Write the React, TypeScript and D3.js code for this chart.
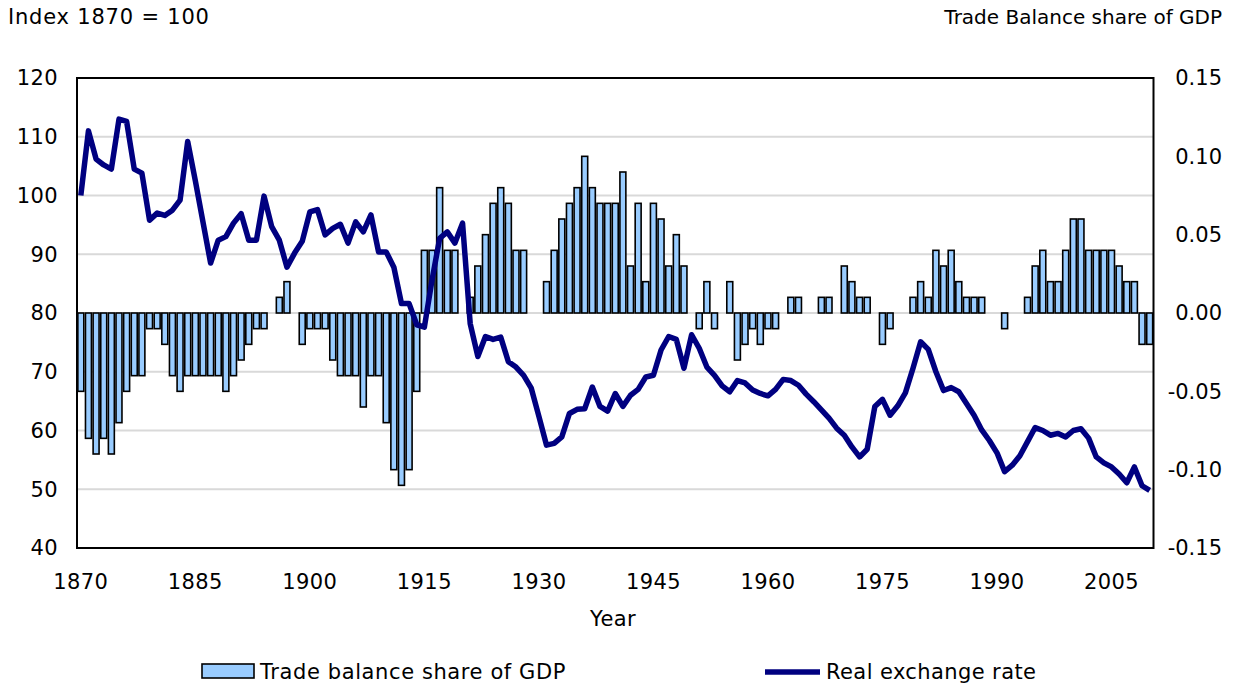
import React from "react";
import * as d3 from "d3";

// categories
const years = d3.range(1870, 2011).map(String);
const xTickYears = ["1870", "1885", "1900", "1915", "1930", "1945", "1960", "1975", "1990", "2005"];
const leftTicks = [40, 50, 60, 70, 80, 90, 100, 110, 120];
const rightTicks = [-0.15, -0.1, -0.05, 0, 0.05, 0.1, 0.15];

// Trade balance share of GDP (bars, right axis)
const tradeBalance = [
  -0.05, -0.08, -0.09, -0.08, -0.09, -0.07, -0.05, -0.04, -0.04, -0.01,
  -0.01, -0.02, -0.04, -0.05, -0.04, -0.04, -0.04, -0.04, -0.04, -0.05,
  -0.04, -0.03, -0.02, -0.01, -0.01, 0, 0.01, 0.02, 0, -0.02,
  -0.01, -0.01, -0.01, -0.03, -0.04, -0.04, -0.04, -0.06, -0.04, -0.04,
  -0.07, -0.1, -0.11, -0.1, -0.05,
  0.04, 0.04, 0.08, 0.04, 0.04, 0, 0.01, 0.03, 0.05, 0.07,
  0.08, 0.07, 0.04, 0.04, 0, 0, 0.02, 0.04, 0.06, 0.07,
  0.08, 0.1, 0.08, 0.07, 0.07, 0.07, 0.09, 0.03, 0.07, 0.02,
  0.07, 0.06, 0.03, 0.05, 0.03, 0, -0.01, 0.02, -0.01, 0,
  0.02, -0.03,
  -0.02, -0.01, -0.02, -0.01, -0.01, 0, 0.01, 0.01, 0, 0,
  0.01, 0.01, 0, 0.03, 0.02, 0.01, 0.01, 0, -0.02, -0.01,
  0, 0, 0.01, 0.02, 0.01, 0.04, 0.03, 0.04, 0.02, 0.01,
  0.01, 0.01, 0, 0, -0.01, 0, 0, 0.01, 0.03, 0.04,
  0.02, 0.02, 0.04, 0.06, 0.06, 0.04, 0.04, 0.04, 0.04, 0.03,
  0.02, 0.02, -0.02, -0.02,
];

// Real exchange rate, index 1870 = 100 (line, left axis)
const realExchangeRate = [
  100, 111, 106.2, 105.2, 104.5, 113, 112.6, 104.5, 103.8, 95.8,
  97.0, 96.6, 97.5, 99.2, 109.2, 102.5, 95.5, 88.5, 92.4, 93.0,
  95.3, 96.9, 92.4, 92.4, 99.9, 94.7, 92.4, 87.8, 90.2, 92.2,
  97.2, 97.6, 93.3, 94.4, 95.1, 91.9, 95.5, 93.8, 96.7, 90.4,
  90.4, 87.8, 81.6, 81.6, 78.0, 77.6,
  85.6, 92.7, 93.8, 91.9, 95.3, 78.2, 72.6, 76.0, 75.5, 75.9,
  71.7, 70.8, 69.4, 67.2, 62.4, 57.5, 57.8, 58.9, 62.9, 63.6,
  63.7, 67.4, 64.1, 63.3, 66.3, 64.1, 66.0, 67.0, 69.1, 69.4,
  73.7, 76.0, 75.5, 70.6, 76.3, 74.0, 70.8, 69.4, 67.6, 66.6,
  68.5, 68.1, 66.9, 66.3, 65.9, 67.0,
  68.7, 68.5, 67.7, 66.2, 64.9, 63.5, 62.1, 60.4, 59.2, 57.2,
  55.5, 56.8, 64.1, 65.3, 62.6, 64.2, 66.4, 70.6, 75.1, 73.8,
  70.0, 66.8, 67.3, 66.6,
  64.6, 62.6, 60.1, 58.3, 56.2, 53.0, 54.1, 55.7, 58.1, 60.5,
  60.0, 59.2, 59.5, 58.9, 60.0, 60.3, 58.7, 55.5, 54.5, 53.8,
  52.6, 51.1, 53.8, 50.6, 49.8,
];

const W = 1247;
const H = 687;
const plot = { left: 77, right: 1153.5, top: 78, bottom: 548 };
const font = "'DejaVu Sans', Verdana, sans-serif";
const fs = 21;
const barFill = "#99ccff";
const lineColor = "#000080";

export default function App() {
  const x = d3.scaleBand().domain(years).range([plot.left, plot.right]).padding(0);
  const yL = d3.scaleLinear().domain([40, 120]).range([plot.bottom, plot.top]);
  const yR = d3.scaleLinear().domain([-0.15, 0.15]).range([plot.bottom, plot.top]);
  const bw = x.bandwidth();
  const barW = bw * 0.78;
  const cx = (yr: string) => (x(yr) as number) + bw / 2;
  const fmtR = (t: number) => d3.format(".2f")(t).replace("\u2212", "-");

  const line = d3
    .line<number>()
    .x((_, i) => cx(years[i]))
    .y((d) => yL(d));

  return (
    <svg
      width={W}
      height={H}
      style={{ position: "absolute", left: 0, top: 0, background: "#fff" }}
      fontFamily={font}
      fontSize={fs}
      letterSpacing={0.4}
    >
      {/* gridlines */}
      {leftTicks.slice(1, -1).map((t) => (
        <line key={t} x1={plot.left} x2={plot.right} y1={yL(t)} y2={yL(t)} stroke="#d9d9d9" strokeWidth={2} />
      ))}

      {/* bars */}
      {tradeBalance.map((v, i) =>
        v === 0 ? null : (
          <rect
            key={years[i]}
            x={cx(years[i]) - barW / 2}
            y={yR(Math.max(0, v))}
            width={barW}
            height={Math.abs(yR(v) - yR(0))}
            fill={barFill}
            stroke="#000"
            strokeWidth={1.6}
          />
        )
      )}

      {/* line */}
      <path d={line(realExchangeRate) || ""} fill="none" stroke={lineColor} strokeWidth={5.5} strokeLinejoin="round" />

      {/* frame */}
      <rect
        x={plot.left}
        y={plot.top}
        width={plot.right - plot.left}
        height={plot.bottom - plot.top}
        fill="none"
        stroke="#000"
        strokeWidth={2}
      />

      {/* left axis labels */}
      {leftTicks.map((t) => (
        <text key={t} x={58} y={yL(t)} dy="0.35em" textAnchor="end" fill="#000">
          {t}
        </text>
      ))}
      {/* right axis labels */}
      {rightTicks.map((t) => (
        <text key={t} x={1222} y={yR(t)} dy="0.35em" textAnchor="end" fill="#000" letterSpacing={0}>
          {fmtR(t)}
        </text>
      ))}
      {/* x axis labels */}
      {xTickYears.map((yr) => (
        <text key={yr} x={cx(yr)} y={582} dy="0.35em" textAnchor="middle" fill="#000">
          {yr}
        </text>
      ))}

      <text x={613} y={619} dy="0.35em" textAnchor="middle">Year</text>
      <text x={8} y={17} dy="0.35em" letterSpacing={0.8}>Index 1870 = 100</text>
      <text x={1222} y={17} dy="0.35em" textAnchor="end" fontSize={20} letterSpacing={0}>
        Trade Balance share of GDP
      </text>

      {/* legend */}
      <rect x={202} y={664} width={52} height={14} fill={barFill} stroke="#000" strokeWidth={1.6} />
      <text x={260} y={672} dy="0.35em" letterSpacing={0.6}>Trade balance share of GDP</text>
      <line x1={765} x2={820} y1={672} y2={672} stroke={lineColor} strokeWidth={5.5} />
      <text x={826} y={672} dy="0.35em">Real exchange rate</text>
    </svg>
  );
}
